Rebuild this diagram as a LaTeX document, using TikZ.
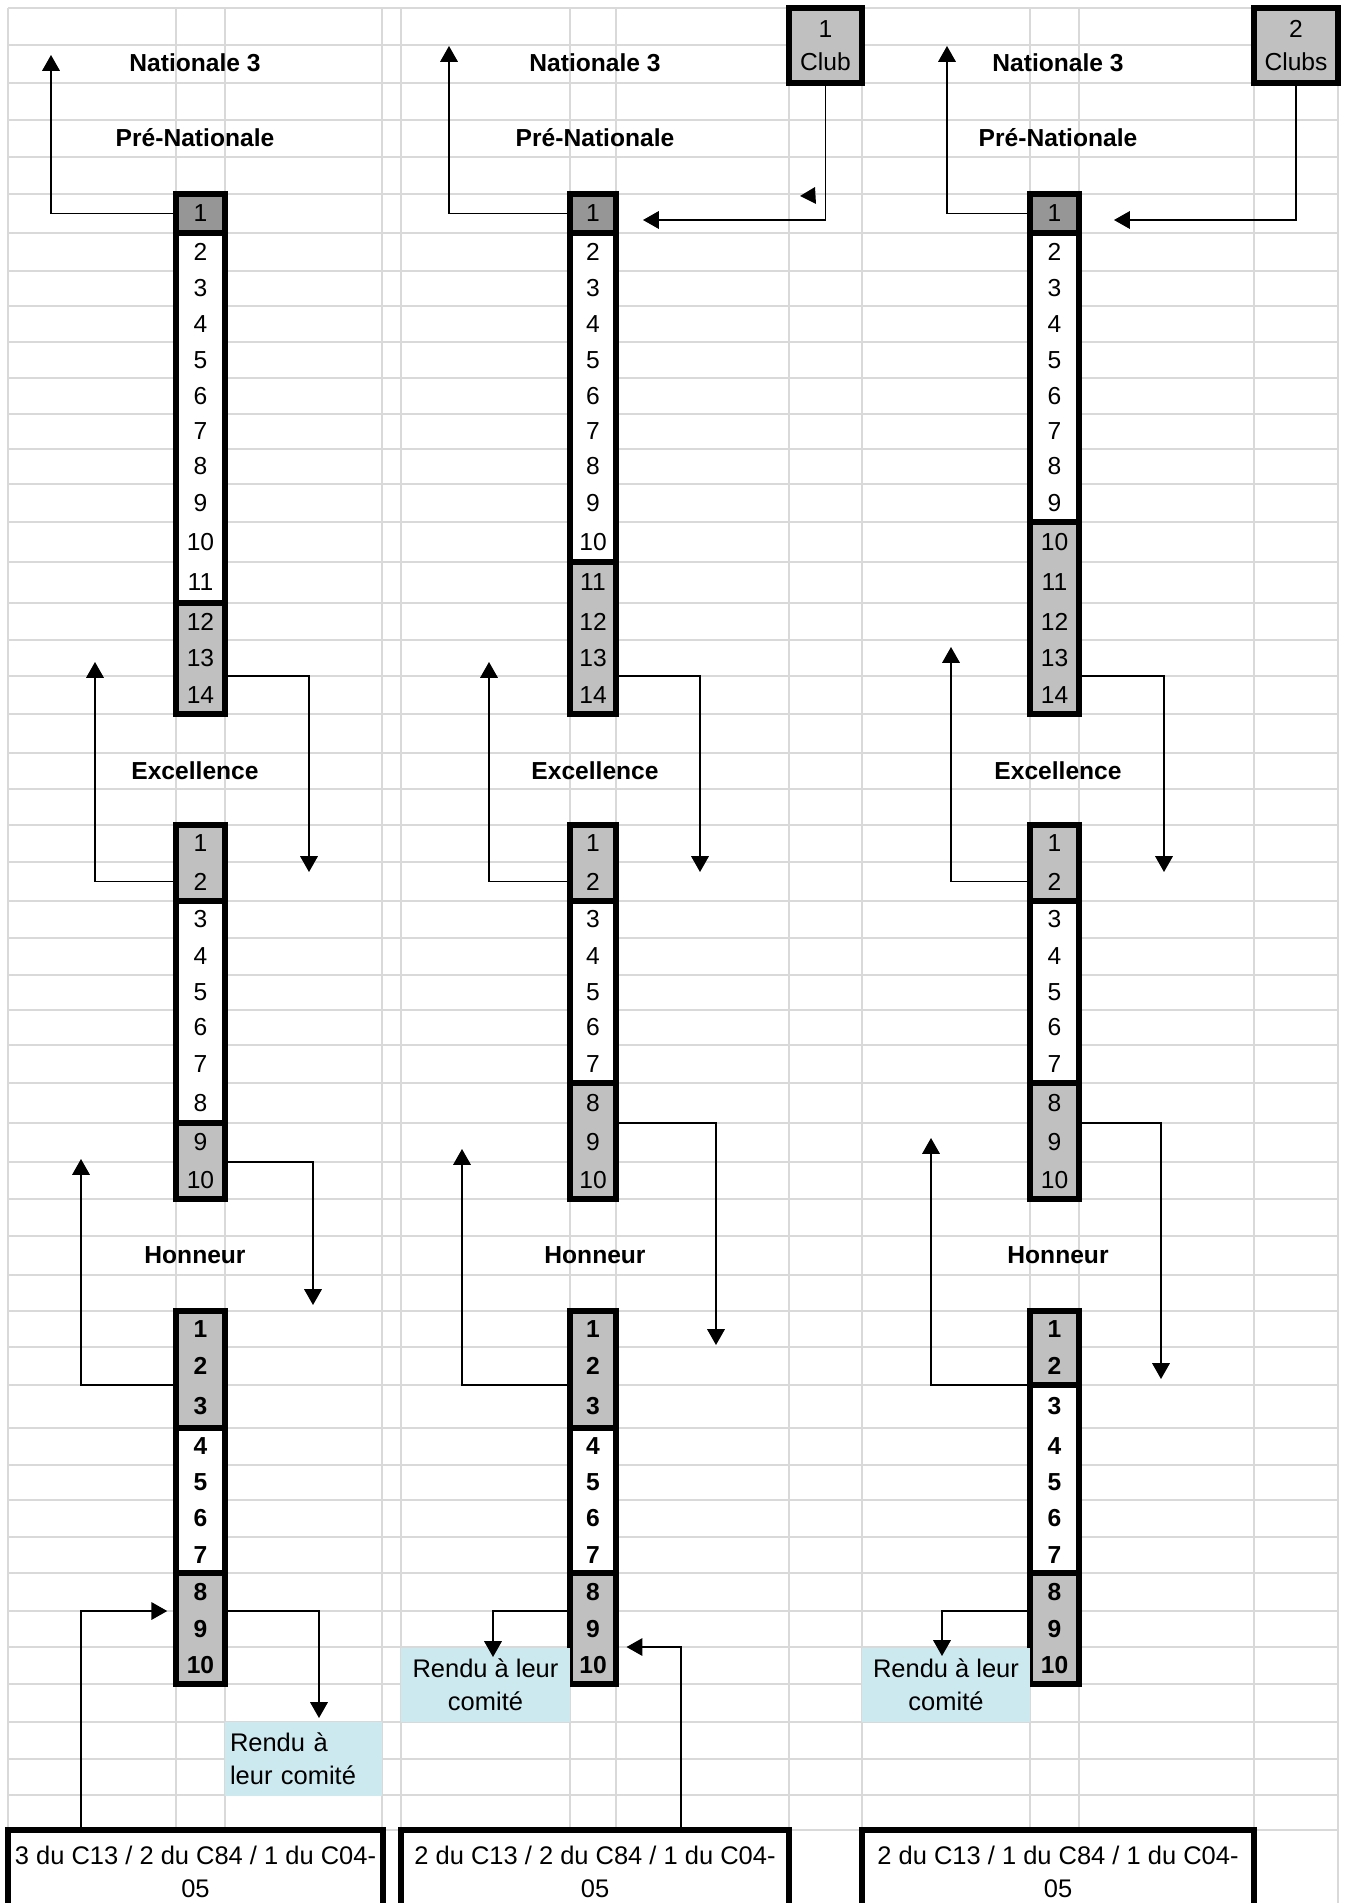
\documentclass[tikz,border=0pt]{standalone}
\usepackage{fontspec}
\setmainfont{Liberation Sans}
\usetikzlibrary{arrows.meta,calc}
\definecolor{grille}{HTML}{D9D9D9}
\definecolor{gris}{HTML}{C0C0C0}
\definecolor{grisfonce}{HTML}{969696}
\definecolor{bleu}{HTML}{CDE9F0}

\tikzset{
  quadrillage/.style={draw=grille, line width=1.5pt},
  cadre/.style={line width=3.2pt},
  chiffre/.style={inner sep=0pt, outer sep=0pt, font=\fontsize{14}{17}\selectfont},
  chiffregras/.style={chiffre, font=\fontsize{14}{17}\selectfont\bfseries},
  titre/.style={font=\fontsize{14}{17}\selectfont\bfseries},
  club/.style={draw, cadre, fill=gris, align=center, inner sep=0pt,
    minimum width=1.46cm, minimum height=1.5cm, font=\fontsize{14}{19}\selectfont},
  rendu/.style={fill=bleu, inner sep=0pt, minimum height=1.48cm,
    font=\fontsize{14.5}{19}\selectfont},
  bas/.style={draw, cadre, fill=white, align=center, inner sep=0pt,
    minimum height=1.68cm, font=\fontsize{14.5}{19}\selectfont},
}

% rows of each division: rank / top / bottom
\def\lignesPre{1/194/233,2/233/271,3/271/306,4/306/342,5/342/378,6/378/414,7/414/449,8/449/484,9/484/522,10/522/562,11/562/603,12/603/640,13/640/676,14/676/714}
\def\lignesExc{1/825/862,2/862/901,3/901/938,4/938/975,5/975/1010,6/1010/1045,7/1045/1083,8/1083/1123,9/1123/1162,10/1162/1199}
\def\lignesHon{1/1311/1347,2/1347/1385,3/1385/1428,4/1428/1465,5/1465/1500,6/1500/1537,7/1537/1573,8/1573/1611,9/1611/1647,10/1647/1684}

% #1 name, #2-#3 x, #4 rows, #5 end of top group, #6 end of white group, #7 last, #8 top fill, #9 style
\newcommand{\classement}[9]{%
  \foreach \n/\ya/\yb in #4 {
    \ifnum\n>#6 \def\fond{gris}\else\ifnum\n>#5 \def\fond{white}\else\def\fond{#8}\fi\fi
    \pgfmathsetmacro\hc{(\yb-\ya)*0.02}
    \pgfmathsetmacro\lc{(#3-#2)*0.02}
    \node[#9, fill=\fond, minimum width=\lc cm, minimum height=\hc cm]
      (#1-\n) at ({(#2+#3)/2},{(\ya+\yb)/2}) {\n};
  }
  \pgfmathtruncatemacro\da{#5+1}
  \pgfmathtruncatemacro\db{#6+1}
  \draw[cadre] (#1-1.north west) rectangle (#1-#5.south east);
  \draw[cadre] (#1-\da.north west) rectangle (#1-#6.south east);
  \draw[cadre] (#1-\db.north west) rectangle (#1-#7.south east);
}

\begin{document}
\begin{tikzpicture}[x=0.02cm, y=-0.02cm, line width=0.8pt,
    >={Triangle[width=10pt,length=9pt]}]
    \useasboundingbox (0,0) rectangle (1345,1903);
    \clip (0,0) rectangle (1345,1903);

    % Sheet grid
    \foreach \y in {8,45,83,120,157,194,233,271,306,342,378,414,449,484,522,562,603,640,676,714,753,789,825,862,901,938,975,1010,1045,1083,1123,1162,1199,1236,1275,1311,1347,1385,1428,1465,1500,1537,1573,1611,1647,1684,1722,1759,1795,1830}
        \draw[quadrillage] (8,\y) -- (1338,\y);
    \foreach \x in {8,176,225,382,401,570,616,789,862,1030,1079,1254,1338}
        \draw[quadrillage] (\x,8) -- (\x,1903);

    % Division titles
    \foreach \p/\xm in {a/195, b/595, c/1058} {
        \node[titre] (\p-titre-n3) at (\xm,63) {Nationale 3};
        \node[titre] (\p-titre-pre) at (\xm,138) {Pré-Nationale};
        \node[titre] (\p-titre-exc) at (\xm,771) {Excellence};
        \node[titre] (\p-titre-hon) at (\xm,1255) {Honneur};
    }

    % Rankings
    \classement{a-pre}{176}{225}{\lignesPre}{1}{11}{14}{grisfonce}{chiffre}
    \classement{a-exc}{176}{225}{\lignesExc}{2}{8}{10}{gris}{chiffre}
    \classement{a-hon}{176}{225}{\lignesHon}{3}{7}{10}{gris}{chiffregras}
    \classement{b-pre}{570}{616}{\lignesPre}{1}{10}{14}{grisfonce}{chiffre}
    \classement{b-exc}{570}{616}{\lignesExc}{2}{7}{10}{gris}{chiffre}
    \classement{b-hon}{570}{616}{\lignesHon}{3}{7}{10}{gris}{chiffregras}
    \classement{c-pre}{1030}{1079}{\lignesPre}{1}{9}{14}{grisfonce}{chiffre}
    \classement{c-exc}{1030}{1079}{\lignesExc}{2}{7}{10}{gris}{chiffre}
    \classement{c-hon}{1030}{1079}{\lignesHon}{2}{7}{10}{gris}{chiffregras}

    % Clubs coming down
    \node[club] (b-club) at (825.5,45.5) {1\\Club};
    \node[club, minimum width=1.68cm] (c-club) at (1296,45.5) {2\\Clubs};

    % Returned to their committee
    \node[rendu, minimum width=3.14cm, text width=2.94cm, inner xsep=0.1cm, align=left]
        (a-rendu) at (303.5,1758.5) {Rendu à\\leur comité};
    \node[rendu, minimum width=3.38cm, align=center] (b-rendu) at (485.5,1684.5) {Rendu à leur\\comité};
    \node[rendu, minimum width=3.36cm, align=center] (c-rendu) at (946,1684.5) {Rendu à leur\\comité};

    % Committees
    \node[bas, minimum width=7.5cm] (a-bas) at (195.5,1872) {3 du C13 / 2 du C84 / 1 du C04-\\05};
    \node[bas, minimum width=7.76cm] (b-bas) at (595,1872) {2 du C13 / 2 du C84 / 1 du C04-\\05};
    \node[bas, minimum width=7.84cm] (c-bas) at (1058,1872) {2 du C13 / 1 du C84 / 1 du C04-\\05};

    % Left panel
    \coordinate (a-t1) at (51,55);
    \coordinate (a-t2) at (309,872);
    \coordinate (a-t3) at (95,662);
    \coordinate (a-t4) at (313,1305);
    \coordinate (a-t5) at (81,1159);
    \coordinate (a-d6) at (81,1830);
    \coordinate (a-t7) at (319,1718);
    \draw[->] (a-pre-1.west) -| (a-t1);
    \draw[->] (a-pre-13.south east) -| (a-t2);
    \draw[->] (a-exc-2.west) -| (a-t3);
    \draw[->] (a-exc-9.south east) -| (a-t4);
    \draw[->] (a-hon-2.south west) -| (a-t5);
    \draw[->, shorten >=5pt] (a-d6) |- (a-hon-8.south west);
    \draw[->] (a-hon-8.south east) -| (a-t7);

    % Middle panel
    \coordinate (b-t1) at (449,46);
    \coordinate (b-t2) at (643,220);
    \coordinate (b-t3) at (700,872);
    \coordinate (b-t4) at (489,662);
    \coordinate (b-t5) at (716,1345);
    \coordinate (b-t6) at (462,1149);
    \coordinate (b-t7) at (493,1657);
    \coordinate (b-d8) at (681,1830);
    \draw[->] (b-pre-1.west) -| (b-t1);
    \draw[->] (b-club.south) |- (b-t2);
    \fill (800,196) -- (815,187) -- (816,204) -- cycle;
    \draw[->] (b-pre-13.south east) -| (b-t3);
    \draw[->] (b-exc-2.west) -| (b-t4);
    \draw[->] (b-exc-8.south east) -| (b-t5);
    \draw[->] (b-hon-2.south west) -| (b-t6);
    \draw[->] (b-hon-8.south west) -| (b-t7);
    \draw[->, shorten >=6pt] (b-d8) |- (b-hon-9.south east);

    % Right panel
    \coordinate (c-t1) at (947,46);
    \coordinate (c-t2) at (1114,220);
    \coordinate (c-t3) at (1164,872);
    \coordinate (c-t4) at (951,647);
    \coordinate (c-t5) at (1161,1379);
    \coordinate (c-t6) at (931,1138);
    \coordinate (c-t7) at (942,1656);
    \draw[->] (c-pre-1.west) -| (c-t1);
    \draw[->] (c-club.south) |- (c-t2);
    \draw[->] (c-pre-13.south east) -| (c-t3);
    \draw[->] (c-exc-2.west) -| (c-t4);
    \draw[->] (c-exc-8.south east) -| (c-t5);
    \draw[->] (c-hon-2.south west) -| (c-t6);
    \draw[->] (c-hon-8.south west) -| (c-t7);
\end{tikzpicture}
\end{document}
